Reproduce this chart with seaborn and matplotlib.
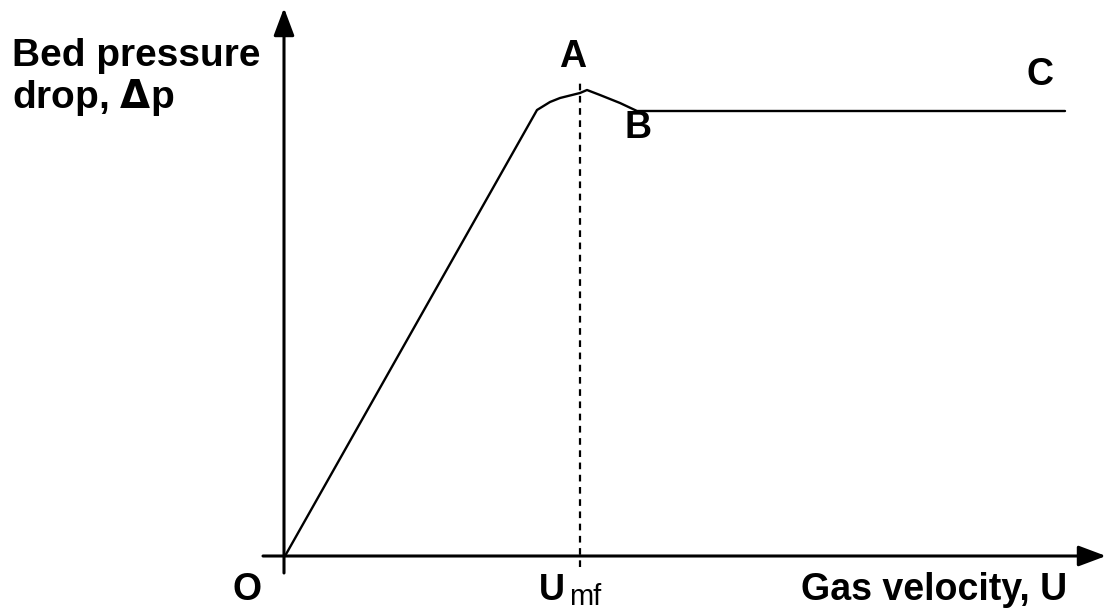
import numpy as np
import pandas as pd
import matplotlib
matplotlib.use('Agg')
import matplotlib.pyplot as plt
import seaborn as sns

# ── DATA (relative to origin O; velocity U, pressure drop dp) ──
gas_velocity = [0, 252, 265, 275, 295, 302, 315, 335, 352, 780]
pressure_drop = [0, 446, 454, 458, 463, 466, 461, 453, 445, 445]
u_mf = 295
point_labels = ['A', 'B', 'C']

# ── SETUP ─────────────────────────────────────────────────────
sns.set_style('white')
plt.rcParams['font.family'] = ['Liberation Sans', 'DejaVu Sans']

fig = plt.figure(figsize=(11.07, 6.13), dpi=100)
ax = fig.add_axes([0, 0, 1, 1])
ax.set_xlim(-285, 822)
ax.set_ylim(-57, 556)
ax.axis('off')

df = pd.DataFrame({'U': gas_velocity, 'dp': pressure_drop})
sns.lineplot(data=df, x='U', y='dp', ax=ax, color='black', linewidth=1.7,
             sort=False, estimator=None)

# dashed line at U_mf
ax.plot([u_mf, u_mf], [-11, 474], color='black', linewidth=1.6,
        linestyle=(0, (3, 2.5)))

# axes with arrows
arrow = dict(arrowstyle='-|>,head_length=1.2,head_width=0.45', color='black',
             lw=2.2, shrinkA=0, shrinkB=0, mutation_scale=14)
ax.annotate('', xy=(-1, 548), xytext=(-1, -17), arrowprops=arrow)
ax.annotate('', xy=(821, 0), xytext=(-22, 0), arrowprops=arrow)

# ── LABELS ────────────────────────────────────────────────────
tkw = dict(fontsize=27, fontweight='bold', color='black')
ax.text(-273, 478, 'Bed pressure\ndrop, $\\mathbf{\\Delta}$p', ha='left', va='center',
        linespacing=1.1, fontsize=28, fontweight='bold', color='black')
ax.text(288, 499, point_labels[0], ha='center', va='center', **tkw)
ax.text(353, 428, point_labels[1], ha='center', va='center', **tkw)
ax.text(755, 481, point_labels[2], ha='center', va='center', **tkw)
ax.text(-38, -34, 'O', ha='center', va='center', **tkw)
ax.text(254, -34, 'U', ha='left', va='center', fontsize=26, fontweight='bold',
        color='black')
ax.text(284, -41, 'mf', ha='left', va='center', fontsize=21, color='black')
ax.text(782, -34, 'Gas velocity, U', ha='right', va='center', **tkw)

plt.savefig('out.png', dpi=100)
